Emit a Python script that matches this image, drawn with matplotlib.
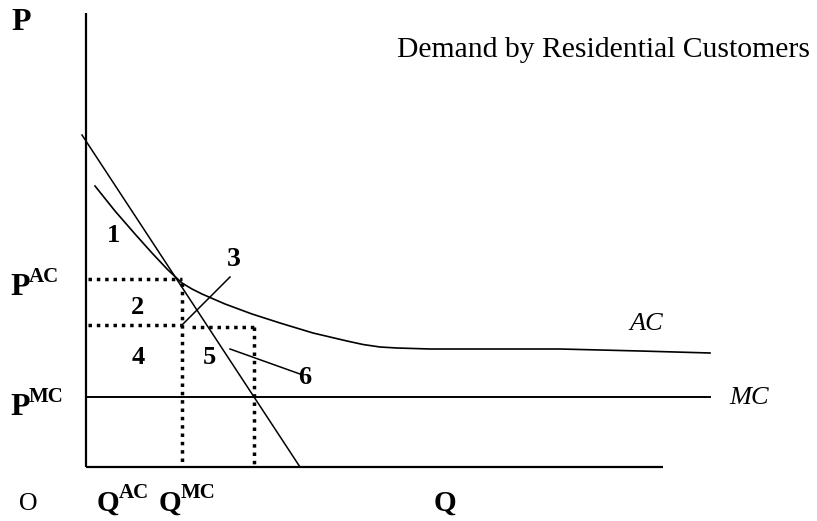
import matplotlib
matplotlib.use("Agg")
import matplotlib.pyplot as plt

# --- data (pixel-space coordinates of the diagram) ---
axis_origin = (86, 467)
y_axis_top = 13
x_axis_end = 663
demand_x = [82, 300]
demand_y = [135, 467]
ac_x = [95, 115, 135, 152, 168, 182, 192, 202, 225, 252, 280, 313, 347, 363, 380, 397, 430, 480, 560, 640, 710]
ac_y = [186, 211, 234, 253, 270, 283, 289, 294, 304, 314, 323, 333, 341, 344.5, 347, 348, 349, 349, 349, 351, 353]
mc_level = 397
mc_x = [86, 710]
p_ac_level = 279
p_mid_level = 325
q_ac = 182
q_mc = 254
pointer3_x = [182, 230]
pointer3_y = [325, 277]
pointer6_x = [230, 300]
pointer6_y = [349, 374]
area_labels = ["1", "2", "3", "4", "5", "6"]
area_label_x = [113.5, 137.5, 234, 138, 209, 305]
area_label_y = [236, 308, 260, 358, 357, 377]
area_label_size = [19, 19, 20, 19, 19, 19]

fig = plt.figure(figsize=(8.17, 5.21), dpi=100)
ax = fig.add_axes([0, 0, 1, 1])
ax.set_xlim(0, 817)
ax.set_ylim(521, 0)
ax.axis("off")

serif = ["Liberation Serif", "DejaVu Serif"]
k = "black"

# axes
ax.plot([axis_origin[0], axis_origin[0]], [y_axis_top, axis_origin[1]], color=k, lw=1.6, solid_capstyle="butt")
ax.plot([axis_origin[0], x_axis_end], [axis_origin[1], axis_origin[1]], color=k, lw=1.6, solid_capstyle="butt")

# demand
ax.plot(demand_x, demand_y, color=k, lw=1.1)
# AC curve
ax.plot(ac_x, ac_y, color=k, lw=1.2, solid_joinstyle="round")
# MC line
ax.plot(mc_x, [mc_level, mc_level], color=k, lw=1.4)

dot = dict(color=k, lw=2.5, linestyle=(0, (1, 1.4)), dash_capstyle="butt")
ax.plot([axis_origin[0] + 2, q_ac], [p_ac_level, p_ac_level], **dot)
ax.plot([axis_origin[0] + 2, q_ac], [p_mid_level, p_mid_level], **dot)
ax.plot([q_ac + 10, q_mc], [p_mid_level + 1.5, p_mid_level + 1.5], **dot)
ax.plot([q_ac, q_ac], [p_ac_level + 4, axis_origin[1]], **dot)
ax.plot([q_mc, q_mc], [p_mid_level + 2, axis_origin[1]], **dot)

# pointers
ax.plot(pointer3_x, pointer3_y, color=k, lw=1.1)
ax.plot(pointer6_x, pointer6_y, color=k, lw=1.1)

for lab, x, y, s in zip(area_labels, area_label_x, area_label_y, area_label_size):
    ax.text(x, y, lab, family=serif, fontweight="bold", fontsize=s, ha="center", va="center")

# axis labels
ax.text(11, 30, "P", family=serif, fontweight="bold", fontsize=23, ha="left", va="baseline")

def sup_label(x, y, base, sup, fs=23, sfs=15, off=13):
    t = ax.text(x, y, base, family=serif, fontweight="bold", fontsize=fs, ha="left", va="baseline")
    fig.canvas.draw()
    bb = t.get_window_extent()
    inv = ax.transData.inverted()
    x1 = inv.transform((bb.x1, bb.y0))[0]
    ax.text(x1 - 1, y - off, sup, family=serif, fontweight="bold", fontsize=sfs, ha="left", va="baseline")

sup_label(10, 295, "P", "AC")
sup_label(10, 415, "P", "MC")
ax.text(28.5, 510, "O", family=serif, fontsize=18.5, ha="center", va="baseline")
sup_label(97, 511, "Q", "AC", fs=21)
sup_label(159, 511, "Q", "MC", fs=21)
ax.text(445, 511, "Q", family=serif, fontweight="bold", fontsize=21, ha="center", va="baseline")

ax.text(810, 50, "Demand by Residential Customers", family=serif, fontsize=21.3, ha="right", va="center")
ax.text(646, 323.5, "AC", family=serif, style="italic", fontsize=19, ha="center", va="center")
ax.text(749, 398.5, "MC", family=serif, style="italic", fontsize=19, ha="center", va="center")

fig.savefig("out.png", dpi=100)
